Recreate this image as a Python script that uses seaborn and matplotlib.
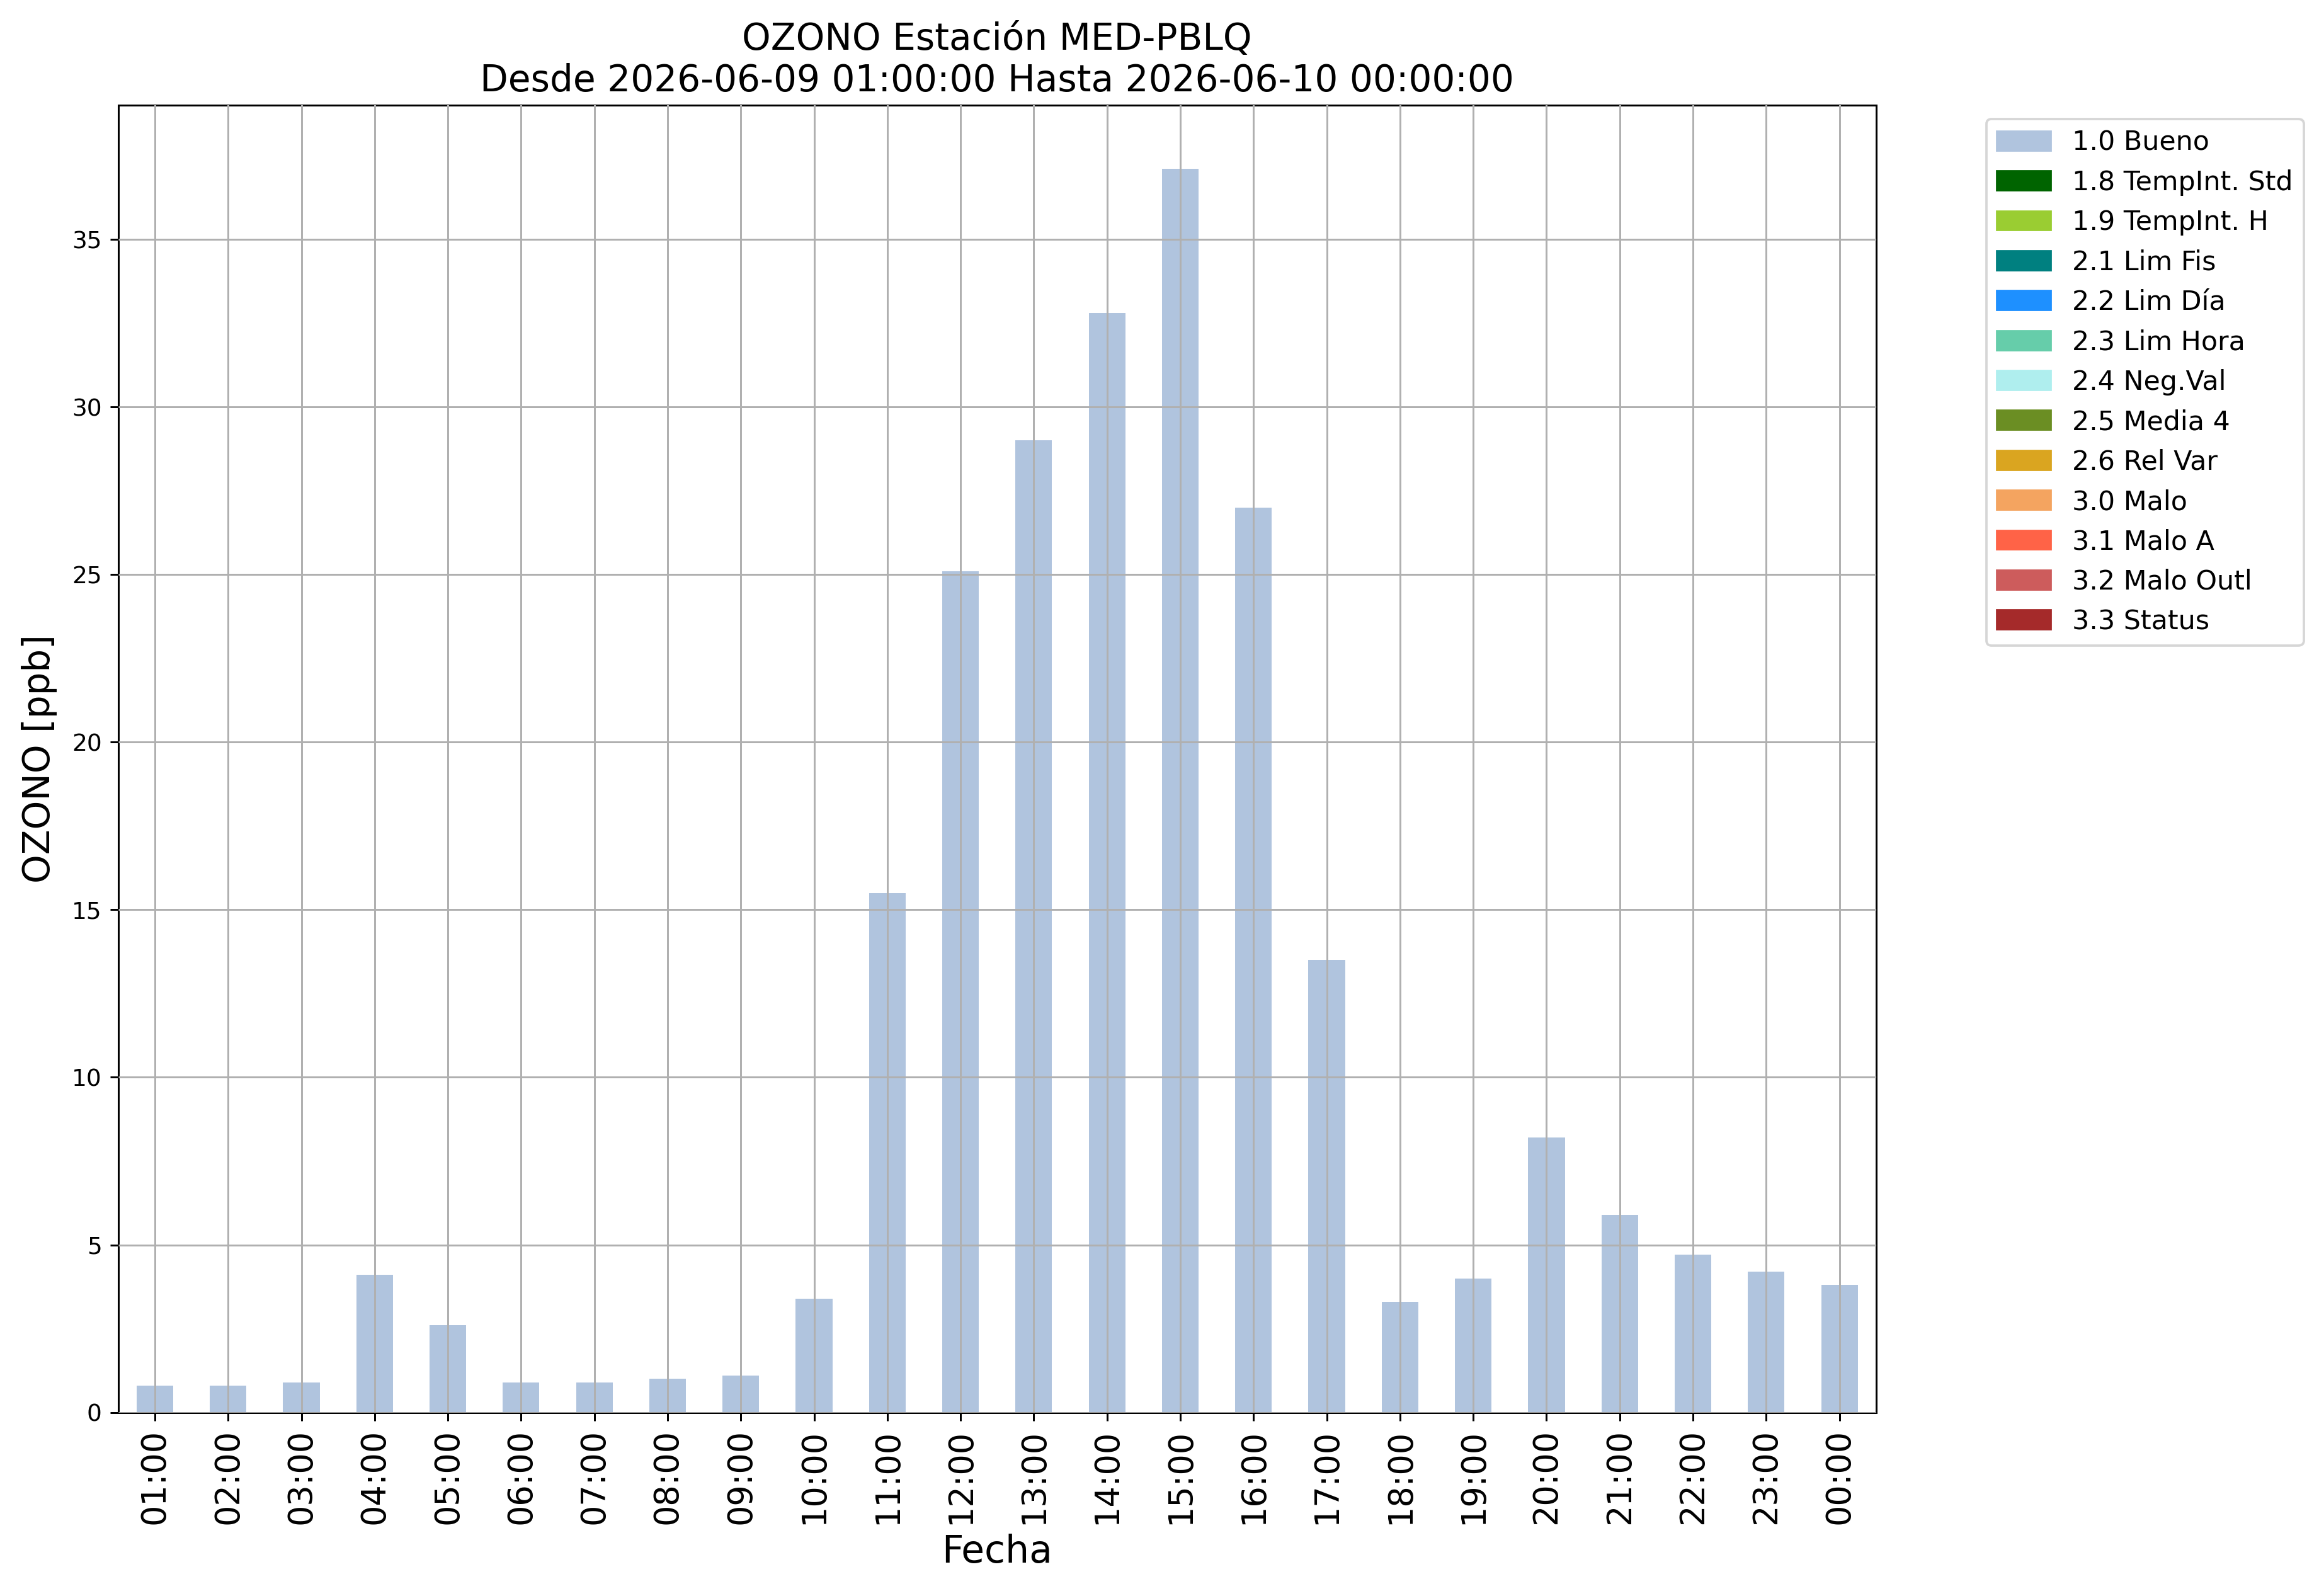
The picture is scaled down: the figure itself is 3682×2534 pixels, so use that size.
import pandas as pd
import seaborn as sns
import matplotlib.pyplot as plt
from matplotlib.patches import Patch

horas = ['01:00', '02:00', '03:00', '04:00', '05:00', '06:00', '07:00', '08:00',
         '09:00', '10:00', '11:00', '12:00', '13:00', '14:00', '15:00', '16:00',
         '17:00', '18:00', '19:00', '20:00', '21:00', '22:00', '23:00', '00:00']
ozono = [0.8, 0.8, 0.9, 4.1, 2.6, 0.9, 0.9, 1.0, 1.1, 3.4, 15.5, 25.1,
         29.0, 32.8, 37.1, 27.0, 13.5, 3.3, 4.0, 8.2, 5.9, 4.7, 4.2, 3.8]
etiquetas = ['1.0 Bueno', '1.8 TempInt. Std', '1.9 TempInt. H', '2.1 Lim Fis',
             '2.2 Lim Día', '2.3 Lim Hora', '2.4 Neg.Val', '2.5 Media 4',
             '2.6 Rel Var', '3.0 Malo', '3.1 Malo A', '3.2 Malo Outl', '3.3 Status']
colores = ['lightsteelblue', 'darkgreen', 'yellowgreen', 'teal', 'dodgerblue',
           'mediumaquamarine', 'paleturquoise', 'olivedrab', 'goldenrod',
           'sandybrown', 'tomato', 'indianred', 'brown']

tabela = pd.DataFrame({'Fecha': horas, 'OZONO [ppb]': ozono})

dpi = 270
fig = plt.figure(figsize=(3682 / dpi, 2534 / dpi), dpi=dpi)
ax = fig.add_axes([0.051, 0.115, 0.758, 0.819])
sns.barplot(data=tabela, x='Fecha', y='OZONO [ppb]', color='lightsteelblue',
            saturation=1, width=0.5, ax=ax)

ax.set_axisbelow(False)
ax.grid(True, color='#b0b0b0', linewidth=0.8)
ax.set_xlim(-0.5, len(horas) - 0.5)
ax.set_ylim(0, 39)
ax.tick_params(axis='x', labelsize=14, rotation=90)
ax.tick_params(axis='y', labelsize=10)
ax.set_xlabel('Fecha', fontsize=16)
ax.set_ylabel('OZONO [ppb]', fontsize=15.5, labelpad=6)
ax.set_title('OZONO Estación MED-PBLQ\nDesde 2026-06-09 01:00:00 Hasta 2026-06-10 00:00:00',
             fontsize=15.5)

handles = [Patch(color=c, label=l) for c, l in zip(colores, etiquetas)]
ax.legend(handles=handles, bbox_to_anchor=(1.055, 1), loc='upper left', fontsize=11.4)

fig.savefig('out.png', dpi=dpi)
